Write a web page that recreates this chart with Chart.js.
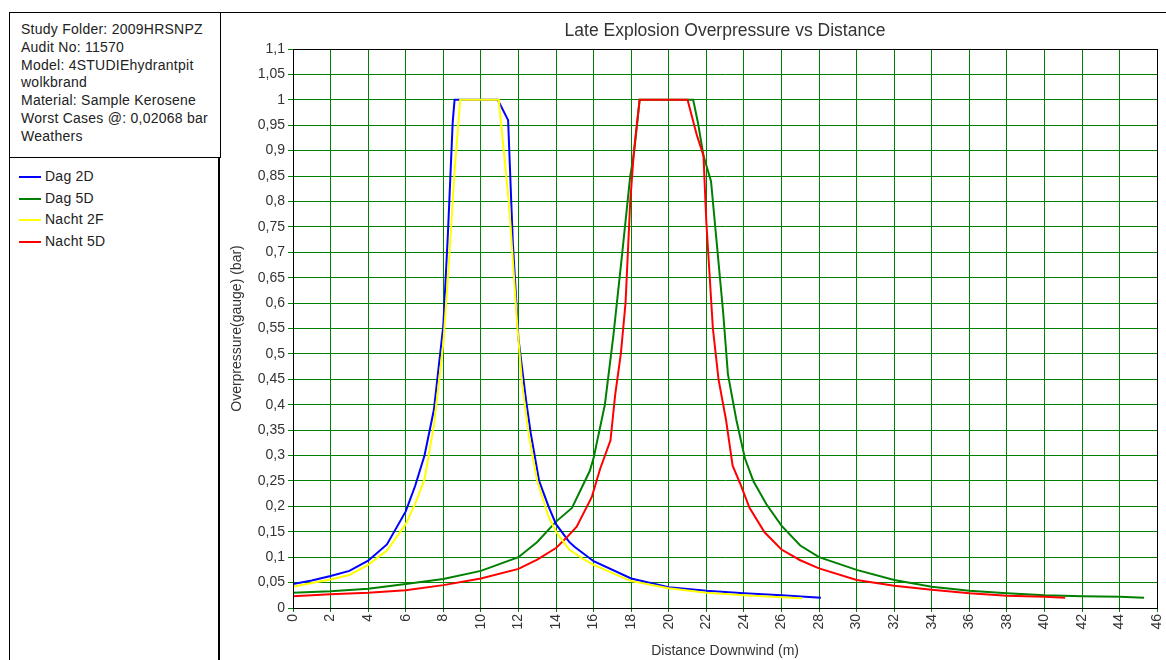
<!DOCTYPE html>
<html>
<head>
<meta charset="utf-8">
<script src="https://cdn.jsdelivr.net/npm/chart.js@4/dist/chart.umd.min.js"></script>
<style>
*{box-sizing:border-box}
html,body{margin:0;padding:0;background:#fff;width:1166px;height:660px;overflow:hidden;font-family:"Liberation Sans",Arial,sans-serif;color:#222}
#topline{position:absolute;left:9px;top:12px;width:1157px;height:1px;background:#000}
#info{position:absolute;left:9px;top:12px;width:212px;height:146px;border-left:1px solid #000;border-right:1px solid #000;border-bottom:1px solid #000;padding:9px 0 0 11px;font-size:14px;line-height:17.8px;white-space:nowrap;letter-spacing:0.25px}
#legend{position:absolute;left:9px;top:157px;width:211px;height:503px;border-left:1px solid #000;border-right:2px solid #000;padding-top:9px}
.li{height:21.7px;line-height:21.7px;font-size:14px;position:relative;padding-left:35px;white-space:nowrap;letter-spacing:0.25px}
.sw{position:absolute;left:9px;top:10px;width:22px;height:2px}
#wrap{position:absolute;left:221px;top:13px;width:955px;height:647px}
</style>
</head>
<body>
<div id="topline"></div>
<div id="info"></div>
<div id="legend"></div>
<div id="wrap"><canvas id="c" width="955" height="647"></canvas></div>
<script>
// ---- text ----
const titleText = "Late Explosion Overpressure vs Distance";
const xTitle = "Distance Downwind (m)";
const yTitle = "Overpressure(gauge) (bar)";
const infoLines = ["Study Folder: 2009HRSNPZ","Audit No: 11570","Model: 4STUDIEhydrantpit","wolkbrand","Material: Sample Kerosene","Worst Cases @: 0,02068 bar","Weathers"];

// ---- series ----
const seriesNames = ["Dag 2D","Dag 5D","Nacht 2F","Nacht 5D"];
const seriesColors = ["#0000ff","#008000","#ffff00","#ff0000"];

const dag2dX = [0,1,2,3,4,5,6,6.5,7,7.5,8,8.25,8.5,8.6,10.9,11.45,11.7,12.0,12.4,12.65,13.1,13.6,14.0,14.7,15,16,18,20,22,24,26,28.1];
const dag2dY = [0.047,0.054,0.063,0.073,0.093,0.125,0.19,0.24,0.30,0.39,0.555,0.74,0.955,1.0,1.0,0.96,0.72,0.53,0.41,0.345,0.25,0.2,0.165,0.13,0.12,0.092,0.058,0.041,0.034,0.029,0.025,0.02];

const dag5dX = [0,2,4,6,8,10,12,13,14,14.85,15.8,16,16.6,17.05,17.5,17.95,18.15,18.45,21.3,21.55,21.85,22.25,22.45,22.9,23.15,23.6,24.05,24.5,25.2,26,27,28,30,32,34,36,38,40,42,44,45.3];
const dag5dY = [0.03,0.033,0.038,0.047,0.057,0.073,0.1,0.13,0.17,0.197,0.27,0.295,0.4,0.535,0.69,0.85,0.895,1.0,1.0,0.956,0.89,0.84,0.76,0.58,0.46,0.37,0.295,0.25,0.204,0.162,0.123,0.1,0.075,0.055,0.042,0.034,0.029,0.025,0.023,0.022,0.02];

const nacht2fX = [0,1,2,3,4,5,6,6.5,7,7.5,8,8.3,8.6,8.9,10.95,11.5,11.95,12.2,12.55,13.0,13.6,14.0,14.7,15.5,16,18,20,22,24,26,27.1];
const nacht2fY = [0.042,0.049,0.056,0.065,0.085,0.113,0.165,0.205,0.253,0.36,0.52,0.68,0.86,1.0,1.0,0.795,0.55,0.44,0.34,0.25,0.18,0.15,0.115,0.095,0.085,0.053,0.039,0.03,0.025,0.021,0.019];

const nacht5dX = [0,2,4,6,8,10,12,13,14,14.6,15.1,15.9,16.35,16.9,17.15,17.45,17.7,17.95,18.15,18.45,21.0,21.5,21.85,22.0,22.35,22.65,23.05,23.4,23.8,24.3,25.1,26,27,28,30,32,34,36,38,40,41.1];
const nacht5dY = [0.023,0.027,0.03,0.035,0.045,0.058,0.077,0.095,0.118,0.14,0.16,0.218,0.274,0.33,0.42,0.5,0.6,0.8,0.9,1.0,1.0,0.93,0.89,0.76,0.55,0.45,0.37,0.28,0.245,0.197,0.149,0.115,0.094,0.078,0.055,0.044,0.036,0.029,0.024,0.022,0.02];

// ---- ticks ----
const xTickValues = [0,2,4,6,8,10,12,14,16,18,20,22,24,26,28,30,32,34,36,38,40,42,44,46];
const yTickValues = [0,0.05,0.1,0.15,0.2,0.25,0.3,0.35,0.4,0.45,0.5,0.55,0.6,0.65,0.7,0.75,0.8,0.85,0.9,0.95,1,1.05,1.1];

// ---- side panel ----
document.getElementById('info').innerHTML = infoLines.map(t => '<div>' + t + '</div>').join('');
document.getElementById('legend').innerHTML = seriesNames.map((n, i) =>
  '<div class="li"><span class="sw" style="background:' + seriesColors[i] + '"></span>' + n + '</div>').join('');

function pts(xs, ys) { return xs.map((x, i) => ({x: x, y: ys[i]})); }
const seriesData = [pts(dag2dX, dag2dY), pts(dag5dX, dag5dY), pts(nacht2fX, nacht2fY), pts(nacht5dX, nacht5dY)];
const drawOrder = [2, 3, 0, 1];

const frame = {
  id: 'frame',
  afterDatasetsDraw(chart) {
    const a = chart.chartArea, ctx = chart.ctx;
    ctx.save();
    ctx.strokeStyle = '#000';
    ctx.lineWidth = 1;
    const l = Math.round(a.left) + 0.5, t = Math.round(a.top) + 0.5, r = Math.round(a.right) + 0.5, b = Math.round(a.bottom) + 0.5;
    ctx.strokeRect(l, t, r - l, b - t);
    ctx.restore();
  }
};

const green = '#008000';
const fam = '"Liberation Sans", Arial, sans-serif';
new Chart(document.getElementById('c'), {
  type: 'line',
  data: {
    datasets: seriesNames.map((n, i) => ({
      label: n,
      data: seriesData[i],
      borderColor: seriesColors[i],
      backgroundColor: seriesColors[i],
      borderWidth: 2,
      pointRadius: 0,
      tension: 0,
      fill: false,
      order: drawOrder[i]
    }))
  },
  options: {
    responsive: false,
    animation: false,
    devicePixelRatio: 1,
    layout: { padding: 0 },
    plugins: {
      legend: { display: false },
      tooltip: { enabled: false },
      title: {
        display: true, text: titleText, fullSize: false, color: '#333',
        font: { family: fam, size: 17.5, weight: 'normal' },
        padding: { top: 8, bottom: 7 }
      }
    },
    scales: {
      x: {
        type: 'linear', min: 0, max: 46,
        afterBuildTicks: s => { s.ticks = xTickValues.map(v => ({value: v})); },
        afterFit: s => { s.height = 52; },
        ticks: { autoSkip: false, maxRotation: 90, minRotation: 90, padding: 2, color: '#333',
          font: { family: fam, size: 14 } },
        grid: { color: green, lineWidth: 1, tickLength: 4, tickColor: green },
        border: { color: '#000' },
        title: { display: true, text: xTitle, color: '#333', padding: { top: 0, bottom: 0 },
          font: { family: fam, size: 14 } }
      },
      y: {
        type: 'linear', min: 0, max: 1.1,
        afterBuildTicks: s => { s.ticks = yTickValues.map(v => ({value: v})); },
        afterFit: s => { s.width = 72; },
        ticks: { autoSkip: false, padding: 3, color: '#333',
          font: { family: fam, size: 14 },
          callback: v => String(+Number(v).toFixed(2)).replace('.', ',') },
        grid: { color: green, lineWidth: 1, tickLength: 5, tickColor: green },
        border: { color: '#000' },
        title: { display: true, text: yTitle, color: '#333', padding: { top: 8, bottom: 0 },
          font: { family: fam, size: 14 } }
      }
    }
  },
  plugins: [frame]
});
</script>
</body>
</html>
